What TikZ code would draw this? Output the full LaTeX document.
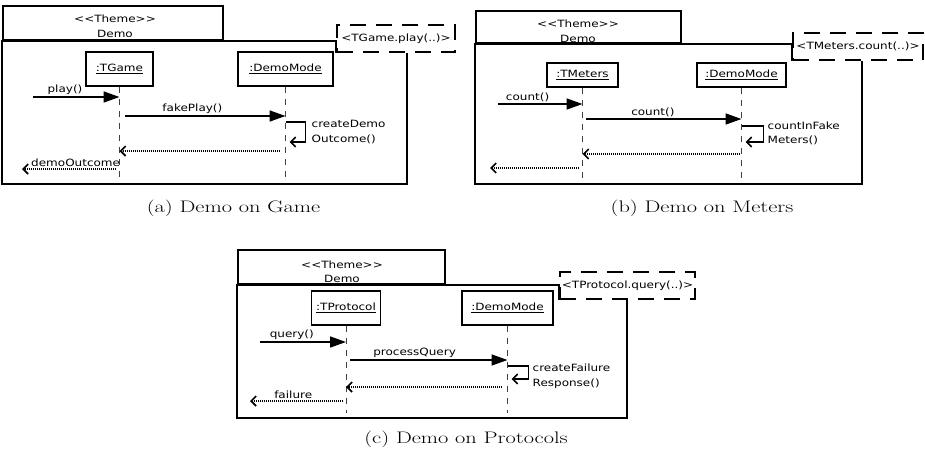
\documentclass[tikz,border=0pt]{standalone}
\usepackage{fontspec}
\usepackage{graphicx}
\newfontfamily\umlfont[FakeStretch=1.2]{DejaVu Sans}
\usetikzlibrary{arrows.meta,positioning}

\begin{document}
\begin{tikzpicture}
		[x=1pt,y=-1pt,
		uml/.style={font={\umlfont\fontsize{10}{14.5}\selectfont},inner sep=1.5pt},
		themetab/.style={draw,line width=1.9pt,minimum height=34pt,inner sep=0pt},
		tmpl/.style={draw,uml,line width=1.9pt,dash pattern=on 16pt off 10pt,minimum height=27pt,inner sep=0pt},
		umlframe/.style={line width=1.9pt},
		object/.style={draw,uml,line width=1.9pt,minimum height=34pt},
		lifeline/.style={line width=.8pt,black!75,dash pattern=on 6pt off 6pt},
		call/.style={line width=1.7pt,-{Triangle[length=16pt,width=11pt]}},
		selfcall/.style={line width=1.6pt,-{Straight Barb[length=5pt,width=10pt]}},
		reply/.style={line width=1.6pt,dash pattern=on 1pt off 1pt,-{Straight Barb[length=5pt,width=10pt]}},
		captext/.style={anchor=base,font=\fontsize{16.7}{20}\selectfont}]
		\useasboundingbox (0,0) rectangle (925,455);
		
		% (a) Demo on Game
		\node[themetab, minimum width=220pt] (tabA) at (113,23) {};
		\node[uml, align=center] (nameA) at (115,26.5) {{<}{<}Theme{>}{>}\\Demo};
		\node[tmpl, minimum width=118pt] (tmplA) at (396,38.5) {<TGame.play(..)>};
		\coordinate (frameA) at (407,184);
		\draw[umlframe] (tmplA.south west) -- (tmplA.west |- tabA.south) -- (tabA.south west)
			-- (tabA.west |- frameA) -- (frameA) -- (frameA |- tmplA.south);
		
		\node[object, minimum width=67pt] (tgame) at (119.5,69) {\underline{:TGame}};
		\node[object, minimum width=95pt] (demoA) at (285.5,69) {\underline{:DemoMode}};
		\coordinate (tgameEnd) at (119.5,180);
		\coordinate (demoAEnd) at (285.5,180);
		\draw[lifeline] (tgame) -- (tgameEnd);
		\draw[lifeline] (demoA) -- (demoAEnd);
		
		\coordinate (playA) at (33,97);
		\draw[call] (playA) -- (playA -| tgame) node[uml, pos=.37, above] (lblPlayA) {play()};
		\coordinate (fakeA) at (125,116);
		\draw[call] (fakeA) -- (fakeA -| demoA) node[uml, pos=.42, above] (lblFakeA) {fakePlay()};
		\coordinate (selfA) at (285.5,122);
		\draw[selfcall] (selfA) -- ++(20,0) -- ++(0,20) -- ++(-16,0);
		\node[uml, anchor=west, align=left] (lblSelfA) at (310,132) {createDemo\\Outcome()};
		\coordinate (backA) at (280,151);
		\draw[reply] (backA) -- (backA -| tgame);
		\coordinate (outA) at (22,169);
		\draw[reply, shorten <=4pt] (outA -| tgame) -- (outA) node[uml, pos=.45, above] (lblOutA) {demoOutcome};
		\node[captext] (capA) at (233.5,212.5) {\scalebox{1.34}[1]{(a) Demo on Game}};
		
		% (b) Demo on Meters
		\node[themetab, minimum width=205pt, minimum height=32pt] (tabB) at (578.5,27) {};
		\node[uml, align=center] (nameB) at (578,31.5) {{<}{<}Theme{>}{>}\\Demo};
		\node[tmpl, minimum width=130pt] (tmplB) at (858,46.5) {<TMeters.count(..)>};
		\coordinate (frameB) at (862,184);
		\draw[umlframe] (tmplB.south west) -- (tmplB.west |- tabB.south) -- (tabB.south west)
			-- (tabB.west |- frameB) -- (frameB) -- (frameB |- tmplB.south);
		
		\node[object, minimum width=71pt, minimum height=24pt] (tmeters) at (582.5,75) {\underline{:TMeters}};
		\node[object, minimum width=89pt, minimum height=24pt] (demoB) at (741.5,75) {\underline{:DemoMode}};
		\coordinate (tmetersEnd) at (582.5,180);
		\coordinate (demoBEnd) at (741.5,180);
		\draw[lifeline] (tmeters) -- (tmetersEnd);
		\draw[lifeline] (demoB) -- (demoBEnd);
		
		\coordinate (countIn) at (498,104);
		\draw[call] (countIn) -- (countIn -| tmeters) node[uml, pos=.35, above] (lblCountIn) {count()};
		\coordinate (countB) at (586,119);
		\draw[call] (countB) -- (countB -| demoB) node[uml, pos=.43, above] (lblCountB) {count()};
		\coordinate (selfB) at (741.5,126);
		\draw[selfcall] (selfB) -- ++(22,0) -- ++(0,16) -- ++(-18,0);
		\node[uml, anchor=west, align=left] (lblSelfB) at (766,133.5) {countInFake\\Meters()};
		\coordinate (backB) at (740,154);
		\draw[reply] (backB) -- (backB -| tmeters);
		\coordinate (outB) at (490,168);
		\draw[reply, shorten <=4pt] (outB -| tmeters) -- (outB);
		\node[captext] (capB) at (702,212.5) {\scalebox{1.34}[1]{(b) Demo on Meters}};
		
		% (c) Demo on Protocols
		\node[themetab, minimum width=207pt] (tabC) at (341.5,267) {};
		\node[uml, align=center] (nameC) at (342,272) {{<}{<}Theme{>}{>}\\Demo};
		\node[tmpl, minimum width=135pt] (tmplC) at (627.5,285.5) {<TProtocol.query(..)>};
		\coordinate (frameC) at (627,418);
		\draw[umlframe] (tmplC.south west) -- (tmplC.west |- tabC.south) -- (tabC.south west)
			-- (tabC.west |- frameC) -- (frameC) -- (frameC |- tmplC.south);
		
		\node[object, minimum width=69pt] (tprotocol) at (346,308) {\underline{:TProtocol}};
		\node[object, minimum width=91pt] (demoC) at (507.5,308) {\underline{:DemoMode}};
		\coordinate (tprotocolEnd) at (346,413);
		\coordinate (demoCEnd) at (507.5,413);
		\draw[lifeline] (tprotocol) -- (tprotocolEnd);
		\draw[lifeline] (demoC) -- (demoCEnd);
		
		\coordinate (queryIn) at (260,342);
		\draw[call] (queryIn) -- (queryIn -| tprotocol) node[uml, pos=.37, above] (lblQueryIn) {query()};
		\coordinate (processC) at (350,360);
		\draw[call] (processC) -- (processC -| demoC) node[uml, pos=.41, above] (lblProcessC) {processQuery};
		\coordinate (selfC) at (507.5,366);
		\draw[selfcall] (selfC) -- ++(21,0) -- ++(0,13) -- ++(-17,0);
		\node[uml, anchor=west, align=left] (lblSelfC) at (531,376) {createFailure\\Response()};
		\coordinate (backC) at (502,387);
		\draw[reply] (backC) -- (backC -| tprotocol);
		\coordinate (outC) at (250,401);
		\draw[reply, shorten <=3pt] (outC -| tprotocol) -- (outC) node[uml, pos=.55, above] (lblOutC) {failure};
		\node[captext] (capC) at (466,443) {\scalebox{1.34}[1]{(c) Demo on Protocols}};
\end{tikzpicture}
\end{document}
